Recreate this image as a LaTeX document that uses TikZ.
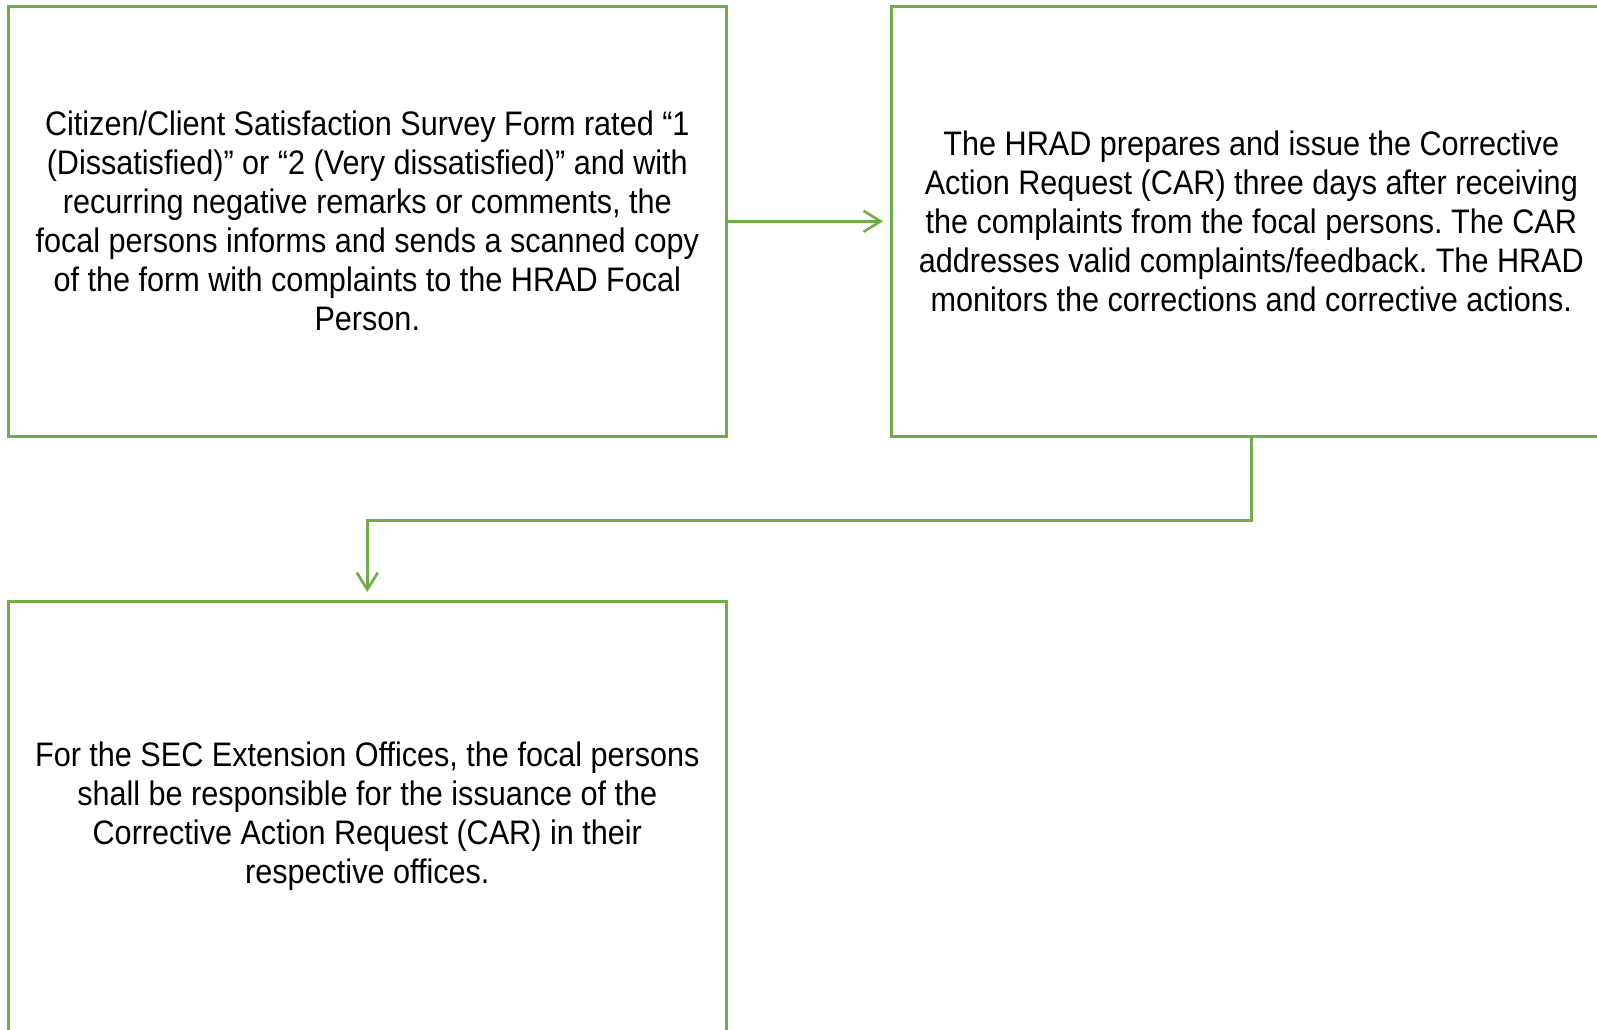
\documentclass[tikz,border=0pt]{standalone}
\usepackage{fontspec}
\setmainfont{Liberation Sans}[FakeStretch=0.9]
\frenchspacing
\usetikzlibrary{arrows.meta}
\definecolor{boxgreen}{HTML}{70AD47}
\tikzset{
  stepbox/.style={draw=boxgreen, line width=2.6pt, minimum width=718pt, minimum height=430pt,
    inner sep=0pt, align=center, font=\fontsize{34}{39}\selectfont, anchor=north west},
  flow/.style={draw=boxgreen, line width=2.6pt, -{Straight Barb[length=17pt,width=21pt,line width=2.6pt]}}
}
\begin{document}
\begin{tikzpicture}[x=1pt,y=-1pt]
\useasboundingbox (0,0) rectangle (1597,1029);
\clip (0,0) rectangle (1597,1029);
\node[stepbox] (b1) at (7,5) {Citizen/Client Satisfaction Survey Form rated “1\\(Dissatisfied)” or “2 (Very dissatisfied)” and with\\recurring negative remarks or comments, the\\focal persons informs and sends a scanned copy\\of the form with complaints to the HRAD Focal\\Person.};
\node[stepbox, minimum width=720pt] (b2) at (890,5) {The HRAD prepares and issue the Corrective\\Action Request (CAR) three days after receiving\\the complaints from the focal persons. The CAR\\addresses valid complaints/feedback. The HRAD\\monitors the corrections and corrective actions.};
\node[stepbox] (b3) at (7,600) {For the SEC Extension Offices, the focal persons\\shall be responsible for the issuance of the\\Corrective Action Request (CAR) in their\\respective offices.};
\draw[flow, shorten >=7pt] (b1.east) -- (b2.west);
\draw[flow, shorten >=8pt] (b2.south) -- ++(0,83) -| (b3.north);
\end{tikzpicture}
\end{document}
